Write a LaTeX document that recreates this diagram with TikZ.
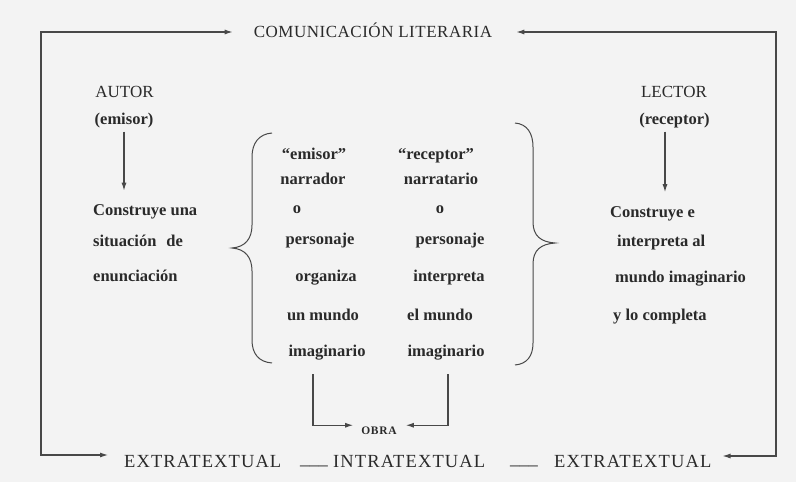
\documentclass[tikz,border=0pt]{standalone}
\usepackage{fontspec}
\setmainfont{Liberation Serif}
\usetikzlibrary{arrows.meta,calc}
\definecolor{ink}{HTML}{2A2A2A}
\definecolor{linec}{HTML}{484848}
\definecolor{paper}{HTML}{F3F3F3}
\begin{document}
\begin{tikzpicture}[x=1pt,y=-1pt,
  every node/.style={inner sep=0pt, text=ink},
  captxt/.style={font=\fontsize{17}{20}\selectfont},
  bigcap/.style={font=\fontsize{18.5}{21}\selectfont},
  lowtxt/.style={font=\fontsize{16.5}{19}\selectfont\bfseries},
  arr/.style={draw=linec, line width=1.1pt, -{Latex[length=8pt,width=5pt]}},
  dbl/.style={draw=linec, line width=1.1pt, {Latex[length=8pt,width=5pt]}-{Latex[length=8pt,width=5pt]}},
  brace/.style={draw=linec, line width=1pt}]
\useasboundingbox (0,0) rectangle (796,482);
\fill[paper] (0,0) rectangle (796,482);

% top title
\node[captxt, anchor=base] (com) at (373,37) {\addfontfeature{LetterSpace=3}COMUNICACIÓN LITERARIA};

% author side
\node[captxt, anchor=base] (aut) at (124.5,97) {AUTOR};
\node[lowtxt, anchor=mid] (emi) at (124,122) {(emisor)};
\node[lowtxt, anchor=mid west] (c1) at (93,213) {Construye una};
\node[lowtxt, anchor=mid west] (c2) at (93,244) {situación\hspace{10pt}de};
\node[lowtxt, anchor=mid west] (c3) at (93,279) {enunciación};

% reader side
\node[captxt, anchor=base] (lec) at (674,97) {LECTOR};
\node[lowtxt, anchor=mid] (rec) at (674.5,122) {(receptor)};
\node[lowtxt, anchor=mid west] (d1) at (610,215) {Construye e};
\node[lowtxt, anchor=mid west] (d2) at (617,244) {interpreta al};
\node[lowtxt, anchor=mid west] (d3) at (615,280) {mundo imaginario};
\node[lowtxt, anchor=mid west] (d4) at (613,318) {y lo completa};

% central columns
\node[lowtxt, anchor=mid] (eL) at (314,157) {“emisor”};
\node[lowtxt, anchor=mid] (nL) at (313,182) {narrador};
\node[lowtxt, anchor=mid] (oL) at (297,211) {o};
\node[lowtxt, anchor=mid] (pL) at (320,242) {personaje};
\node[lowtxt, anchor=mid] (gL) at (326,279) {organiza};
\node[lowtxt, anchor=mid] (mL) at (323,318) {un mundo};
\node[lowtxt, anchor=mid] (imL) at (327,354) {imaginario};

\node[lowtxt, anchor=mid] (eR) at (436,157) {“receptor”};
\node[lowtxt, anchor=mid] (nR) at (441,182) {narratario};
\node[lowtxt, anchor=mid] (oR) at (440,211) {o};
\node[lowtxt, anchor=mid] (pR) at (450,242) {personaje};
\node[lowtxt, anchor=mid] (iR) at (449,279) {interpreta};
\node[lowtxt, anchor=mid] (mR) at (440,318) {el mundo};
\node[lowtxt, anchor=mid] (imR) at (446,354) {imaginario};

% braces
\draw[brace] (272,133) .. controls (259,134) and (252,143) .. (252,157) -- (252,225)
  .. controls (252,239) and (245,247) .. (232,248)
  .. controls (245,249) and (252,257) .. (252,271) -- (252,340)
  .. controls (252,354) and (259,362) .. (272,363);
\draw[brace] (515,123) .. controls (527,124) and (533,133) .. (533,147) -- (533,222)
  .. controls (533,236) and (541,242) .. (555,243)
  .. controls (541,244) and (533,250) .. (533,264) -- (533,343)
  .. controls (533,356) and (527,364) .. (515,365);

% OBRA
\node[font=\fontsize{11.5}{13}\selectfont\bfseries, anchor=base] (obra) at (379,434) {\addfontfeature{LetterSpace=6}OBRA};
\draw[arr, shorten <=14pt, shorten >=8pt] ($(imL.south)+(-14,0)$) |- ($(obra.west)+(0,-5)$);
\draw[arr, shorten <=14pt, shorten >=9pt] ($(imR.south)+(2,0)$) |- ($(obra.east)+(0,-5)$);

% bottom row
\node[bigcap, anchor=base west] (x1) at (124,467) {\addfontfeature{LetterSpace=6}EXTRATEXTUAL};
\node[bigcap, anchor=base west] (u1) at (300,464) {\_\_\_};
\node[bigcap, anchor=base west] (in) at (333,467) {\addfontfeature{LetterSpace=6}INTRATEXTUAL};
\node[bigcap, anchor=base west] (u2) at (510,464) {\_\_\_};
\node[bigcap, anchor=base west] (x2) at (554,467) {\addfontfeature{LetterSpace=6}EXTRATEXTUAL};

% inner arrows
\draw[arr, shorten <=3.5pt, shorten >=13.5pt] (emi.south) -- (emi.south |- c1.north);
\draw[arr, shorten <=3.5pt, shorten >=14pt] ($(rec.south)+(-9.5,0)$) -- ($(rec.south |- d1.north)+(-9.5,0)$);

% frame
\coordinate (fTL) at (41,32);
\coordinate (fBL) at (41,455);
\coordinate (fTR) at (776,32);
\coordinate (fBR) at (776,456);
\draw[dbl, shorten <=21pt, shorten >=16pt] (fTL -| com.west) -- (fTL) -- (fBL) -- (fBL -| x1.west);
\draw[dbl, shorten <=24pt, shorten >=11pt] (fTR -| com.east) -- (fTR) -- (fBR) -- (fBR -| x2.east);
\end{tikzpicture}
\end{document}
